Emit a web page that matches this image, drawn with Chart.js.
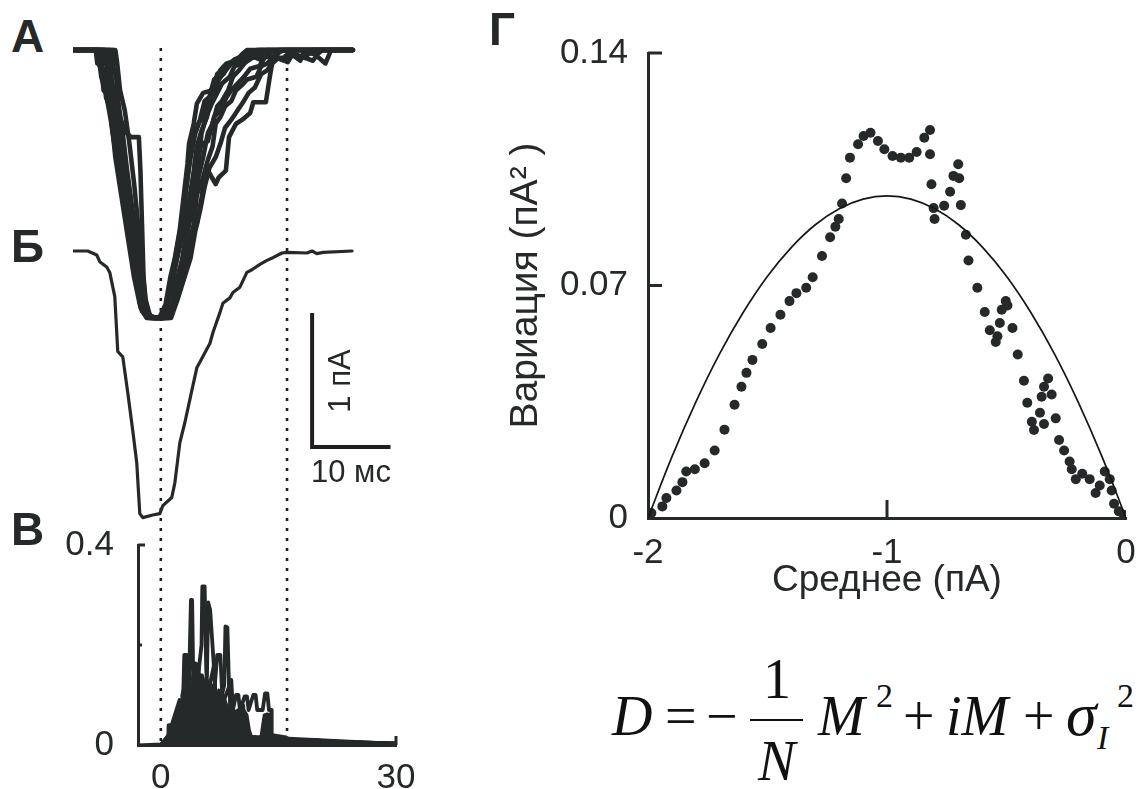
<!DOCTYPE html>
<html lang="ru">
<head>
<meta charset="UTF-8">
<title>Флуктуационный анализ тока</title>
<script src="https://cdn.jsdelivr.net/npm/chart.js"></script>
<style>
    body {
        margin: 0;
        width: 1142px;
        height: 789px;
        position: relative;
        overflow: hidden;
        background: #fff;
        font-family: "Liberation Sans", Arial, sans-serif;
        color: #25292a;
    }
    canvas { position: absolute; }
    .lbl { position: absolute; line-height: 1; white-space: nowrap; }
    .panel { font-weight: bold; font-size: 46px; }
    .f {
        position: absolute;
        line-height: 1;
        white-space: nowrap;
        font-family: "Liberation Serif", "Times New Roman", serif;
        font-size: 56px;
        color: #111;
    }
    .it { font-style: italic; }
</style>
</head>
<body>
<canvas id="traces" width="323" height="710" style="left:73px;top:40px"></canvas>
<canvas id="variance" width="422" height="284" style="left:0;top:505px"></canvas>
<canvas id="parab" width="662" height="605" style="left:480px;top:0"></canvas>

<div class="lbl panel" style="left:11px;top:13px">А</div>
<div class="lbl panel" style="left:11px;top:223px">Б</div>
<div class="lbl panel" style="left:11px;top:506px">В</div>
<div class="lbl panel" style="left:489px;top:6px">Г</div>

<div class="lbl" style="left:339px;top:381px;font-size:31px;transform:translate(-50%,-50%) rotate(-90deg)">1 пА</div>
<div class="lbl" style="left:311px;top:456px;font-size:31px">10 мс</div>

<!-- формула параболы -->
<div class="f it" style="left:612px;top:688px">D</div>
<div class="f" style="left:665px;top:688px">=</div>
<div class="f" style="left:706px;top:688px">−</div>
<div class="f" style="left:763px;top:651px">1</div>
<div style="position:absolute;left:750px;top:719px;width:53px;height:2px;background:#111"></div>
<div class="f it" style="left:758px;top:733px">N</div>
<div class="f it" style="left:818px;top:688px">M</div>
<div class="f" style="left:876px;top:679px;font-size:34px">2</div>
<div class="f" style="left:903px;top:688px">+</div>
<div class="f it" style="left:946px;top:688px">iM</div>
<div class="f" style="left:1023px;top:688px">+</div>
<div class="f it" style="left:1066px;top:683px;font-size:62px">σ</div>
<div class="f it" style="left:1097px;top:721px;font-size:34px">I</div>
<div class="f" style="left:1117px;top:679px;font-size:34px">2</div>

<script>
const INK = '#25292a';
const FONT = '"Liberation Sans", Arial, sans-serif';

// ---- А: отдельные записи тока, [мс, пА] ----
const traceA1 = [[-11.2,0],[-8.3,0],[-8.1,-0.1],[-7.6,-0.12],[-7.3,-0.3],[-6.6,-0.35],[-6.2,-0.6],[-5.4,-0.9],[-4.6,-1.15],[-3.8,-1.45],[-3.0,-1.75],[-2.4,-1.95],[-1.6,-2.0],[-0.2,-2.0],[0.6,-1.9],[1.2,-1.7],[1.8,-1.55],[2.4,-1.35],[2.9,-1.1],[3.4,-0.85],[3.6,-0.7],[4.2,-0.55],[4.6,-0.4],[5.4,-0.32],[6.6,-0.3],[7.2,-0.18],[8.4,-0.12],[9.4,-0.07],[11.2,-0.03],[12.6,0],[24.5,0]];
const traceA2 = [[-11.2,0],[-7.9,0],[-7.8,-0.12],[-7.2,-0.15],[-7.0,-0.35],[-6.4,-0.45],[-5.8,-0.8],[-5.0,-1.1],[-4.2,-1.4],[-3.4,-1.7],[-2.6,-1.92],[-1.8,-2.0],[0.2,-2.0],[1.0,-1.85],[1.6,-1.62],[2.2,-1.45],[2.8,-1.3],[3.2,-1.05],[3.8,-0.8],[4.4,-0.62],[5.0,-0.52],[5.6,-0.38],[6.2,-0.35],[6.8,-0.22],[8.0,-0.18],[8.6,-0.1],[10.0,-0.08],[12.0,-0.04],[13.5,0],[24.5,0]];
const traceA3 = [[-11.2,0],[-7.0,0],[-6.8,-0.05],[-6.2,-0.25],[-5.6,-0.45],[-4.4,-0.62],[-3.8,-0.65],[-2.8,-0.65],[-2.6,-0.9],[-2.4,-1.3],[-2.2,-1.7],[-1.8,-1.95],[-1.2,-2.0],[0.5,-2.0],[1.4,-1.9],[2.0,-1.72],[2.8,-1.55],[3.4,-1.35],[4.0,-1.1],[4.3,-0.85],[4.6,-0.72],[5.2,-0.6],[5.9,-0.5],[6.4,-0.3],[7.0,-0.25],[7.6,-0.15],[8.4,-0.1],[9.6,-0.08],[10.4,-0.03],[11.0,0],[24.5,0]];
const traceA4 = [[-11.2,0],[-5.8,0],[-5.6,-0.08],[-5.2,-0.3],[-4.6,-0.45],[-4.0,-0.7],[-3.4,-1.0],[-2.9,-1.3],[-2.4,-1.6],[-2.0,-1.85],[-1.4,-1.98],[-0.8,-2.0],[1.0,-2.0],[1.8,-1.9],[2.5,-1.78],[3.2,-1.6],[3.8,-1.42],[4.6,-1.3],[5.2,-1.1],[5.8,-0.87],[6.2,-0.92],[7.0,-1.0],[7.4,-0.95],[8.3,-0.9],[8.7,-0.65],[9.6,-0.55],[10.4,-0.52],[11.4,-0.47],[11.8,-0.39],[13.4,-0.39],[13.9,-0.2],[14.2,-0.1],[14.6,-0.02],[16.0,0],[24.5,0]];
const traceA5 = [[-11.2,0],[-7.4,0],[-7.3,-0.08],[-6.8,-0.1],[-6.5,-0.28],[-6.0,-0.5],[-5.3,-0.75],[-4.5,-1.05],[-3.6,-1.4],[-2.8,-1.75],[-2.2,-1.95],[-1.0,-2.0],[0.8,-2.0],[1.6,-1.88],[2.4,-1.7],[3.0,-1.48],[3.6,-1.3],[4.2,-1.18],[4.8,-0.95],[5.4,-0.8],[6.0,-0.62],[6.6,-0.55],[7.2,-0.42],[7.8,-0.38],[8.6,-0.3],[9.2,-0.2],[10.0,-0.15],[10.8,-0.09],[11.8,-0.05],[13.0,-0.08],[13.6,-0.02],[15.0,0],[24.5,0]];
const traceA6 = [[-11.2,0],[-6.6,0],[-6.5,-0.1],[-6.0,-0.35],[-5.6,-0.4],[-5.2,-0.6],[-4.6,-0.85],[-3.9,-1.15],[-3.2,-1.5],[-2.6,-1.8],[-2.0,-1.97],[-0.6,-2.0],[1.2,-1.98],[2.0,-1.82],[2.6,-1.62],[3.2,-1.4],[3.8,-1.12],[4.2,-0.98],[4.8,-0.85],[5.2,-0.62],[5.8,-0.5],[6.5,-0.4],[7.2,-0.32],[7.8,-0.25],[8.8,-0.2],[9.4,-0.12],[10.6,-0.1],[11.6,-0.06],[12.8,-0.04],[14.6,-0.05],[15.4,0],[24.5,0]];
const traceA7 = [[-11.2,0],[-7.6,0],[-7.5,-0.15],[-7.0,-0.2],[-6.6,-0.42],[-6.0,-0.55],[-5.4,-0.85],[-4.7,-1.1],[-4.0,-1.38],[-3.2,-1.7],[-2.5,-1.93],[-1.2,-2.0],[0.4,-2.0],[1.2,-1.8],[2.0,-1.58],[2.6,-1.42],[3.4,-1.2],[4.0,-0.98],[4.6,-0.78],[5.3,-0.7],[6.0,-0.68],[6.8,-0.5],[7.6,-0.45],[8.4,-0.35],[9.0,-0.3],[9.8,-0.25],[10.6,-0.2],[11.4,-0.14],[12.6,-0.12],[13.2,-0.05],[15.6,-0.06],[16.4,-0.02],[17.8,-0.08],[18.2,-0.02],[19.6,-0.03],[20.2,-0.06],[21.0,-0.1],[21.5,-0.03],[21.7,0],[24.5,0]];
const traceA8 = [[-11.2,0],[-7.2,0],[-7.1,-0.06],[-6.7,-0.2],[-6.2,-0.38],[-5.6,-0.62],[-4.9,-0.95],[-4.1,-1.28],[-3.3,-1.6],[-2.7,-1.85],[-2.0,-1.98],[-0.5,-2.0],[1.5,-1.95],[2.2,-1.75],[2.8,-1.6],[3.6,-1.45],[4.2,-1.3],[4.6,-1.08],[5.4,-0.95],[6.0,-0.82],[6.6,-0.72],[7.0,-0.55],[7.6,-0.5],[8.2,-0.42],[9.0,-0.38],[9.6,-0.3],[10.4,-0.26],[11.0,-0.22],[12.2,-0.2],[12.8,-0.12],[13.6,-0.1],[14.4,-0.05],[15.8,-0.08],[17.0,-0.03],[18.4,-0.06],[19.2,0],[24.5,0]];
const traceA9 = [[-11.2,0],[-8.0,0],[-7.9,-0.05],[-7.6,-0.2],[-7.0,-0.32],[-6.3,-0.55],[-5.6,-0.8],[-4.8,-1.1],[-4.0,-1.4],[-3.2,-1.72],[-2.6,-1.9],[-1.8,-1.99],[0.0,-2.0],[0.8,-1.9],[1.4,-1.75],[2.0,-1.5],[2.6,-1.3],[3.0,-1.15],[3.5,-0.9],[4.0,-0.68],[4.8,-0.55],[5.4,-0.5],[6.0,-0.38],[6.8,-0.32],[7.4,-0.22],[8.2,-0.16],[9.0,-0.1],[10.2,-0.06],[11.4,-0.02],[12.2,0],[24.5,0]];
const traceA10 = [[-11.2,0],[-6.2,0],[-6.1,-0.12],[-5.7,-0.2],[-5.4,-0.4],[-4.9,-0.6],[-4.3,-0.9],[-3.6,-1.2],[-3.0,-1.5],[-2.4,-1.78],[-1.8,-1.95],[-1.0,-2.0],[1.3,-2.0],[2.2,-1.85],[3.0,-1.7],[3.8,-1.55],[4.4,-1.35],[5.0,-1.2],[5.6,-1.02],[6.2,-0.88],[7.0,-0.8],[7.6,-0.7],[8.2,-0.58],[9.0,-0.52],[9.8,-0.45],[10.6,-0.38],[11.2,-0.32],[12.0,-0.28],[12.8,-0.18],[13.6,-0.15],[14.2,-0.1],[15.0,-0.06],[16.2,-0.09],[16.8,-0.03],[18.0,-0.05],[19.4,-0.08],[20.0,-0.03],[20.6,0],[24.5,0]];
const tracesA = [traceA1, traceA2, traceA3, traceA4, traceA5, traceA6, traceA7, traceA8, traceA9, traceA10];

// ---- Б: усреднённый ток, [мс, пА] ----
const meanTrace = [[-11.24,0],[-9.32,0],[-8.17,-0.03],[-7.79,-0.08],[-6.9,-0.12],[-6.51,-0.16],[-5.87,-0.34],[-5.49,-0.75],[-4.85,-0.79],[-4.21,-1.06],[-3.58,-1.34],[-3.07,-1.58],[-2.68,-1.96],[-2.3,-1.99],[-1.02,-1.97],[-0.13,-1.96],[0.26,-1.9],[1.4,-1.84],[1.79,-1.73],[2.43,-1.43],[3.07,-1.28],[3.96,-1.04],[4.6,-0.87],[4.98,-0.83],[5.62,-0.76],[6.26,-0.69],[6.64,-0.61],[7.54,-0.46],[7.92,-0.39],[8.81,-0.35],[9.2,-0.31],[10.09,-0.27],[10.98,-0.16],[11.62,-0.14],[12.64,-0.1],[13.54,-0.07],[14.3,-0.05],[15.45,-0.015],[16.1,-0.01],[18.65,-0.015],[19.3,0],[19.9,-0.02],[20.7,-0.01],[24.4,0]];

// пунктирные отметки времени, мс
const markTimes = [0, 16.1];
// масштабные отрезки: 1 пА и 10 мс
const scaleBar = [[19.3,-1.963],[19.3,-2.963],[29.3,-2.963]];

// ---- В: вариация, [мс, пА^2] ----
const varBase = [[-2.9,0],[0.0,0.002],[0.5,0.004],[0.9,0.006],[0.95,0.04],[1.8,0.042],[1.9,0.066],[2.6,0.068],[2.7,0.1],[3.0,0.12],[3.3,0.1],[3.5,0.13],[3.8,0.09],[4.1,0.14],[4.4,0.1],[4.7,0.15],[5.0,0.11],[5.3,0.14],[5.6,0.1],[5.9,0.13],[6.2,0.09],[6.6,0.12],[7.0,0.08],[7.4,0.11],[7.8,0.075],[8.2,0.09],[8.6,0.07],[9.0,0.075],[9.4,0.065],[9.8,0.07],[10.2,0.06],[10.6,0.07],[11.0,0.06],[11.3,0.03],[11.6,0.015],[12.2,0.012],[12.8,0.018],[13.0,0.04],[13.2,0.06],[13.6,0.062],[14.0,0.06],[14.15,0.012],[15.0,0.01],[16.0,0.006],[16.5,0.009],[17.5,0.004],[18.5,0.008],[19.5,0.003],[20.5,0.006],[22,0.002],[24,0.004],[26,0.001],[28,0.002],[30,0.001]];
const varS1 = [[0,0],[1.0,0.01],[2.2,0.03],[2.8,0.06],[3.0,0.18],[3.3,0.18],[3.5,0.05],[4.2,0.02],[5.0,0.01],[6,0.005],[8,0.01],[10,0.004],[14,0.002],[30,0.001]];
const varS2 = [[0,0],[1.5,0.01],[3.0,0.05],[3.6,0.12],[3.85,0.29],[4.0,0.29],[4.2,0.08],[4.8,0.03],[6,0.01],[9,0.005],[30,0.002]];
const varS3 = [[0,0],[2,0.01],[3.5,0.04],[4.5,0.1],[5.2,0.2],[5.3,0.317],[5.6,0.317],[5.8,0.15],[6.2,0.05],[7,0.02],[9,0.01],[30,0.003]];
const varS4 = [[0,0],[3,0.02],[5.0,0.08],[5.9,0.14],[6.05,0.285],[6.3,0.27],[6.6,0.2],[7.0,0.1],[7.5,0.04],[9,0.01],[30,0.002]];
const varS5 = [[0,0],[4,0.02],[6.0,0.06],[6.9,0.12],[7.2,0.18],[7.6,0.18],[7.9,0.08],[8.3,0.03],[10,0.01],[30,0.002]];
const varS6 = [[0,0],[5,0.03],[7.5,0.08],[8.1,0.12],[8.25,0.237],[8.5,0.235],[8.7,0.12],[9.0,0.06],[10,0.02],[14,0.01],[30,0.003]];
const varS7 = [[0,0],[2.5,0.03],[4.2,0.06],[4.4,0.163],[4.8,0.16],[5.0,0.05],[6.5,0.02],[30,0.002]];
const varS8 = [[0,0],[8,0.03],[8.8,0.07],[9.0,0.13],[9.2,0.07],[9.6,0.1],[9.9,0.1],[10.1,0.07],[10.7,0.097],[11.0,0.097],[11.2,0.07],[11.8,0.1],[12.1,0.1],[12.3,0.07],[13.0,0.07],[13.3,0.103],[13.6,0.103],[13.8,0.07],[14.1,0.07],[14.15,0.01],[16,0.01],[30,0.002]];
const varS9 = [[0,0],[1,0.02],[2.4,0.09],[2.7,0.02],[3.6,0.11],[4.0,0.03],[5.0,0.14],[5.4,0.06],[6.8,0.16],[7.1,0.05],[8.8,0.12],[9.1,0.03],[10.5,0.08],[10.8,0.02],[12,0.01],[14,0.02],[16,0.015],[17,0.005],[20,0.01],[22,0.004],[30,0.002]];
const varSpikes = [varS1, varS2, varS3, varS4, varS5, varS6, varS7, varS8, varS9];
const varTicks = [0, 0.2, 0.4];
const varTimeTicks = [0, 30];

// ---- Г: среднее (пА) и вариация (пА^2) ----
const meanVals = [-1.986,-1.94,-1.923,-1.881,-1.856,-1.84,-1.804,-1.763,-1.721,-1.68,-1.638,-1.609,-1.588,-1.563,-1.522,-1.487,-1.446,-1.408,-1.379,-1.338,-1.311,-1.272,-1.238,-1.216,-1.202,-1.188,-1.171,-1.155,-1.121,-1.098,-1.069,-1.038,-1.011,-0.977,-0.942,-0.907,-0.876,-0.844,-0.82,-0.82,-0.814,-0.805,-0.801,-0.761,-0.736,-0.722,-0.702,-0.698,-0.691,-0.67,-0.659,
    -0.622,-0.591,-0.503,-0.496,-0.52,-0.528,-0.57,-0.475,-0.538,-0.545,-0.453,-0.427,-0.326,-0.343,-0.311,-0.353,-0.413,-0.36,-0.294,-0.394,-0.343,-0.385,-0.28,-0.259,-0.236,-0.227,-0.183,-0.21,-0.152,-0.089,-0.068,-0.11,-0.127,-0.06,-0.05,-0.03,-0.009];
const varVals = [0.0015,0.0035,0.006,0.0083,0.0108,0.014,0.0147,0.0165,0.0203,0.0266,0.0341,0.0395,0.0437,0.0476,0.0524,0.0572,0.0612,0.0653,0.0677,0.0693,0.0725,0.0789,0.0845,0.0877,0.09,0.0947,0.1023,0.1085,0.1125,0.115,0.116,0.1135,0.111,0.109,0.1085,0.1085,0.1102,0.1145,0.1168,0.1095,0.1005,0.0933,0.09,0.094,0.0982,0.103,0.1065,0.1023,0.0942,0.0853,0.0775,
    0.0693,0.062,0.0653,0.064,0.0627,0.0587,0.0565,0.0572,0.0547,0.053,0.0492,0.0413,0.042,0.0395,0.0372,0.0365,0.0347,0.0317,0.03,0.029,0.0283,0.0265,0.0235,0.0203,0.017,0.0147,0.0133,0.0117,0.0117,0.014,0.0117,0.0098,0.0075,0.0083,0.0043,0.002,0.001];
// аппроксимирующая парабола
const fitM = [-2,-1.9,-1.8,-1.7,-1.6,-1.5,-1.4,-1.3,-1.2,-1.1,-1,-0.9,-0.8,-0.7,-0.6,-0.5,-0.4,-0.3,-0.2,-0.1,0];
const fitD = [0,0.0184,0.0349,0.0495,0.0621,0.0728,0.0815,0.0883,0.0931,0.096,0.097,0.096,0.0931,0.0883,0.0815,0.0728,0.0621,0.0495,0.0349,0.0184,0];
const meanTicks = [-2, -1, 0];
const dispTicks = [0, 0.07, 0.14];

// короткие засечки внутрь области графика
const innerTicks = {
    id: 'innerTicks',
    afterDraw(chart, args, opts) {
        const ctx = chart.ctx;
        const area = chart.chartArea;
        ctx.save();
        ctx.strokeStyle = INK;
        ctx.lineWidth = opts.width || 3;
        (opts.y || []).forEach(([v, len]) => {
            const py = chart.scales.y.getPixelForValue(v);
            ctx.beginPath();
            ctx.moveTo(area.left, py);
            ctx.lineTo(area.left + len, py);
            ctx.stroke();
        });
        (opts.x || []).forEach(([v, len]) => {
            const px = chart.scales.x.getPixelForValue(v);
            ctx.beginPath();
            ctx.moveTo(px, area.bottom);
            ctx.lineTo(px, area.bottom - len);
            ctx.stroke();
        });
        ctx.restore();
    }
};

function line(data, extra) {
    return Object.assign({
        data: data,
        borderColor: INK,
        borderWidth: 3,
        pointRadius: 0,
        fill: false,
        tension: 0,
        borderCapStyle: 'round',
        borderJoinStyle: 'round'
    }, extra || {});
}

// ---- А + Б ----
const traceSets = tracesA.map(tr => line(tr, {yAxisID: 'yA', borderWidth: 4.6}));
traceSets.push(line(meanTrace, {yAxisID: 'yB', borderWidth: 3.2}));
markTimes.forEach(t => {
    traceSets.push(line([[t, 0.015], [t, -5.19]], {
        yAxisID: 'yA', borderWidth: 2.6, borderDash: [3, 7], borderCapStyle: 'butt', borderColor: '#1e1e1e'
    }));
});
traceSets.push(line(scaleBar, {yAxisID: 'yA', borderWidth: 4, borderCapStyle: 'butt', borderJoinStyle: 'miter', borderColor: '#231f20'}));

new Chart(document.getElementById('traces'), {
    type: 'line',
    data: { datasets: traceSets },
    options: {
        responsive: false,
        animation: false,
        layout: { padding: 0 },
        plugins: { legend: { display: false }, tooltip: { enabled: false } },
        scales: {
            x: { type: 'linear', min: -11.2, max: 30, display: false },
            yA: { type: 'linear', min: -5.224, max: 0.0746, display: false },
            yB: { type: 'linear', min: -3.724, max: 1.5746, display: false }
        }
    }
});

// ---- В ----
const varSets = [line(varBase, {fill: 'origin', backgroundColor: INK, borderWidth: 3})];
varSpikes.forEach(s => varSets.push(line(s, {borderWidth: 3.8})));

new Chart(document.getElementById('variance'), {
    type: 'line',
    data: { datasets: varSets },
    options: {
        responsive: false,
        animation: false,
        layout: { padding: { top: 40, right: 26, left: 0, bottom: 0 } },
        plugins: {
            legend: { display: false },
            tooltip: { enabled: false },
            innerTicks: { y: [[0.4, 7], [0.2, 4]], x: [[30, 9]] }
        },
        scales: {
            x: {
                type: 'linear', min: -2.9, max: 30,
                grid: { display: false },
                border: { display: true, color: INK, width: 3 },
                afterBuildTicks: s => { s.ticks = varTimeTicks.map(v => ({value: v})); },
                afterFit: s => { s.height = 44; },
                ticks: { color: INK, padding: 4, font: { family: FONT, size: 35 }, maxRotation: 0, callback: v => String(v) }
            },
            y: {
                type: 'linear', min: 0, max: 0.4,
                grid: { display: false },
                border: { display: true, color: INK, width: 3 },
                afterBuildTicks: s => { s.ticks = varTicks.map(v => ({value: v})); },
                afterFit: s => { s.width = 138; },
                ticks: { color: INK, padding: 16, font: { family: FONT, size: 35 },
                         callback: v => (v === 0.2 ? '' : String(v)) }
            }
        }
    },
    plugins: [innerTicks]
});

// ---- Г ----
const points = meanVals.map((m, i) => ({x: m, y: varVals[i]}));
const fitCurve = fitM.map((m, i) => ({x: m, y: fitD[i]}));

new Chart(document.getElementById('parab'), {
    type: 'scatter',
    data: {
        datasets: [
            { type: 'line', data: fitCurve, borderColor: '#161616', borderWidth: 1.7, pointRadius: 0, tension: 0.4, fill: false },
            { data: points, backgroundColor: INK, borderColor: INK, pointRadius: 5, borderWidth: 0 }
        ]
    },
    options: {
        responsive: false,
        animation: false,
        layout: { padding: { top: 53, right: 16, left: 0, bottom: 0 } },
        plugins: {
            legend: { display: false },
            tooltip: { enabled: false },
            innerTicks: { y: [[0.07, 14], [0.14, 14]], x: [[-1, 18]] }
        },
        scales: {
            x: {
                type: 'linear', min: -2, max: 0,
                grid: { display: false },
                border: { display: true, color: INK, width: 3 },
                afterBuildTicks: s => { s.ticks = meanTicks.map(v => ({value: v})); },
                afterFit: s => { s.height = 87; },
                ticks: { color: INK, padding: 6, font: { family: FONT, size: 35 }, maxRotation: 0, callback: v => String(v) },
                title: { display: true, text: 'Среднее (пА)', color: INK, font: { family: FONT, size: 37 }, padding: { top: 0, bottom: 2 } }
            },
            y: {
                type: 'linear', min: 0, max: 0.14,
                grid: { display: false },
                border: { display: true, color: INK, width: 3 },
                afterBuildTicks: s => { s.ticks = dispTicks.map(v => ({value: v})); },
                afterFit: s => { s.width = 168; },
                ticks: { color: INK, padding: 12, font: { family: FONT, size: 35 }, callback: v => String(v) },
                title: { display: true, text: 'Вариация (пА² )', color: INK, font: { family: FONT, size: 39 }, padding: { top: 23, bottom: 0 } }
            }
        }
    },
    plugins: [innerTicks]
});
</script>
</body>
</html>
